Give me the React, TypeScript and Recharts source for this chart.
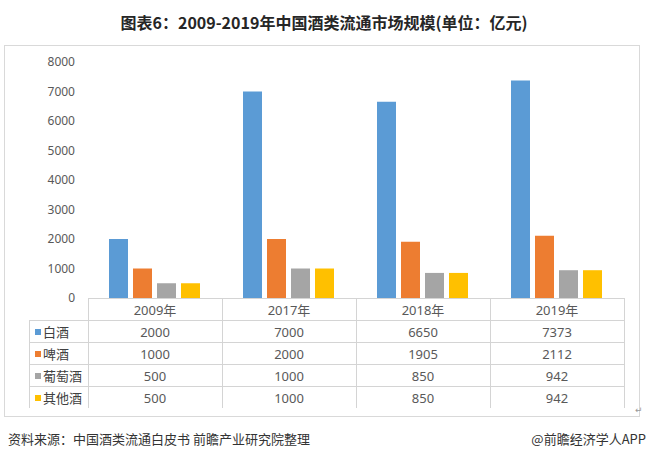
import { BarChart, Bar, XAxis, YAxis } from 'recharts';

const years = ['2009年', '2017年', '2018年', '2019年'];
const seriesNames = ['白酒', '啤酒', '葡萄酒', '其他酒'];
const baijiu = [2000, 7000, 6650, 7373];
const pijiu = [1000, 2000, 1905, 2112];
const putaojiu = [500, 1000, 850, 942];
const qitajiu = [500, 1000, 850, 942];
const yTicks = [0, 1000, 2000, 3000, 4000, 5000, 6000, 7000, 8000];
const colors = ['#5B9BD5', '#ED7D31', '#A5A5A5', '#FFC000'];

const seriesValues = [baijiu, pijiu, putaojiu, qitajiu];
const data = years.map((year, i) => {
  const row: Record<string, string | number> = { year };
  seriesNames.forEach((name, s) => {
    row[name] = seriesValues[s][i];
  });
  return row;
});

const FONT = "'Noto Sans', 'Noto Sans CJK SC', sans-serif";
const LINE = '#d4d4d4';

// table geometry, lined up with the plot area
const tableLeft = 29;
const plotLeft = 88;
const plotRight = 624;
const tableTop = 298;
const rowH = 22;
const colW = (plotRight - plotLeft) / years.length;

function DataTable() {
  const bottom = tableTop + rowH * (seriesNames.length + 1);
  return (
    <svg width={648} height={461} style={{ position: 'absolute', left: 0, top: 0 }}>
      <line x1={plotLeft} x2={plotRight} y1={tableTop + 0.5} y2={tableTop + 0.5} stroke={LINE} />
      {seriesNames.map((_, r) => {
        const y = tableTop + rowH * (r + 1) + 0.5;
        return <line key={r} x1={tableLeft} x2={plotRight} y1={y} y2={y} stroke={LINE} />;
      })}
      <line x1={tableLeft + 0.5} x2={tableLeft + 0.5} y1={tableTop + rowH} y2={bottom} stroke={LINE} />
      {[0, 1, 2, 3, 4].map((c) => {
        const x = Math.round(plotLeft + colW * c) + 0.5;
        return <line key={c} x1={x} x2={x} y1={tableTop} y2={bottom} stroke={LINE} />;
      })}
      {years.map((y, c) => (
        <text
          key={y}
          x={plotLeft + colW * (c + 0.5)}
          y={tableTop + rowH / 2 + 1}
          textAnchor="middle"
          dominantBaseline="central"
          fontSize={13}
          fill="#595959"
          fontFamily={FONT}
        >
          {y}
        </text>
      ))}
      {seriesNames.map((name, r) => {
        const cy = tableTop + rowH * (r + 1.5) + 1;
        return (
          <g key={name}>
            <rect x={35} y={cy - 3} width={6} height={6} fill={colors[r]} />
            <text x={43} y={cy} dominantBaseline="central" fontSize={13} fill="#404040" fontFamily={FONT}>
              {name}
            </text>
            {seriesValues[r].map((v, c) => (
              <text
                key={c}
                x={plotLeft + colW * (c + 0.5)}
                y={cy}
                textAnchor="middle"
                dominantBaseline="central"
                fontSize={13}
                fill="#595959"
                fontFamily={FONT}
              >
                {v}
              </text>
            ))}
          </g>
        );
      })}
      <text x={635} y={413} fontSize={9} fill="#999" fontFamily="'DejaVu Sans', sans-serif">
        ↵
      </text>
    </svg>
  );
}

export default function App() {
  return (
    <div style={{ position: 'relative', width: 648, height: 461, background: '#fff', fontFamily: FONT }}>
      <style>{'body{margin:0}'}</style>
      <div
        style={{
          position: 'absolute',
          left: 0,
          top: 10,
          width: 648,
          textAlign: 'center',
          fontSize: 16,
          fontWeight: 700,
          color: '#262626',
          lineHeight: '24px',
          fontFamily: "'Noto Sans CJK SC', sans-serif",
        }}
      >
        图表6：2009-2019年中国酒类流通市场规模(单位：亿元)
      </div>
      <div
        style={{
          position: 'absolute',
          left: 4,
          top: 45,
          width: 634,
          height: 370,
          border: '1px solid #d9d9d9',
        }}
      />
      <div style={{ position: 'absolute', left: 0, top: 0 }}>
        <BarChart
          width={648}
          height={310}
          data={data}
          margin={{ top: 62, right: 648 - plotRight, bottom: 310 - tableTop, left: 0 }}
          barCategoryGap={21}
          barGap={5}
        >
          <XAxis dataKey="year" hide />
          <YAxis
            domain={[0, 8000]}
            ticks={yTicks}
            width={plotLeft}
            axisLine={false}
            tickLine={false}
            tickSize={0}
            tickMargin={13}
            interval={0}
            tick={{ fill: '#595959', fontSize: 12, fontFamily: FONT }}
          />
          {seriesNames.map((name, i) => (
            <Bar key={name} dataKey={name} fill={colors[i]} isAnimationActive={false} />
          ))}
        </BarChart>
      </div>
      <DataTable />
      <div
        style={{
          position: 'absolute',
          left: 8,
          top: 430,
          fontSize: 13,
          color: '#333',
          lineHeight: '18px',
          fontFamily: "'Noto Sans CJK SC', sans-serif",
        }}
      >
        资料来源：中国酒类流通白皮书 前瞻产业研究院整理
      </div>
      <div
        style={{
          position: 'absolute',
          right: 2,
          top: 430,
          fontSize: 13,
          color: '#333',
          lineHeight: '18px',
          fontFamily: "'Noto Sans CJK SC', sans-serif",
        }}
      >
        @前瞻经济学人APP
      </div>
    </div>
  );
}
